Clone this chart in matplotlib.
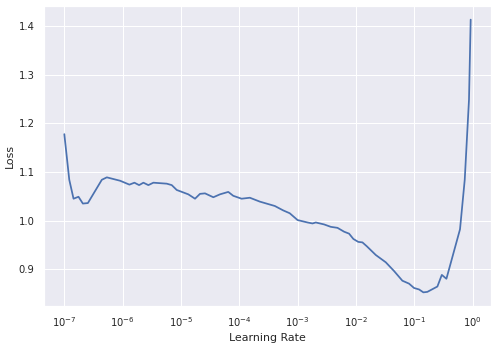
import matplotlib as mpl

mpl.use("Agg")
import matplotlib.pyplot as plt
import numpy as np
import seaborn as sns

log_lr = [
    -7.000, -6.915, -6.842, -6.757, -6.682, -6.596, -6.357, -6.271, -6.043, -5.884,
    -5.798, -5.718, -5.644, -5.559, -5.473, -5.244, -5.158, -5.073, -4.874, -4.759,
    -4.674, -4.588, -4.445, -4.331, -4.189, -4.104, -3.961, -3.819, -3.648, -3.477,
    -3.391, -3.249, -3.135, -3.001, -2.830, -2.745, -2.688, -2.546, -2.431, -2.317,
    -2.203, -2.118, -2.044, -1.960, -1.889, -1.814, -1.660, -1.489, -1.347, -1.204,
    -1.090, -1.004, -0.918, -0.844, -0.776, -0.604, -0.528, -0.449, -0.216, -0.135,
    -0.062, -0.033,
]
loss = [
    1.178, 1.084, 1.045, 1.049, 1.035, 1.036, 1.084, 1.089, 1.082, 1.074,
    1.078, 1.073, 1.078, 1.073, 1.078, 1.076, 1.073, 1.063, 1.054, 1.045,
    1.055, 1.056, 1.048, 1.054, 1.059, 1.051, 1.045, 1.047, 1.039, 1.033,
    1.030, 1.021, 1.015, 1.001, 0.996, 0.994, 0.996, 0.992, 0.987, 0.985,
    0.977, 0.973, 0.962, 0.956, 0.955, 0.947, 0.929, 0.914, 0.896, 0.876,
    0.870, 0.861, 0.858, 0.852, 0.853, 0.864, 0.888, 0.880, 0.982, 1.084,
    1.249, 1.414,
]

sns.set_theme(style="darkgrid")

lrs = 10.0 ** np.array(log_lr)

fig = plt.figure(figsize=(497 / 72, 348 / 72), dpi=72)
ax = fig.add_axes([44 / 497, 42 / 348, 447 / 497, 300 / 348])
ax.plot(lrs, loss, color="#4c72b0", lw=1.75)
ax.set_xscale("log")
ax.set_xlabel("Learning Rate", fontsize=11)
ax.set_ylabel("Loss", fontsize=11)
ax.tick_params(labelsize=10)

fig.savefig("out.png", dpi=72)
